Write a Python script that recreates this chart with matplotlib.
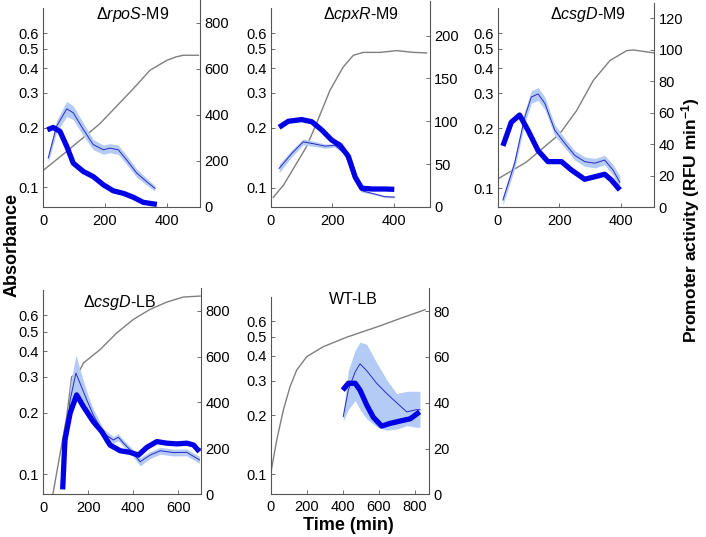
import numpy as np
import matplotlib
matplotlib.use("Agg")
import matplotlib.pyplot as plt
from matplotlib.ticker import NullLocator

plt.rcParams['font.family'] = ['Liberation Sans', 'DejaVu Sans']
plt.rcParams['mathtext.fontset'] = 'custom'
plt.rcParams['mathtext.rm'] = 'Liberation Sans'
plt.rcParams['mathtext.it'] = 'Liberation Sans:italic'
plt.rcParams['mathtext.bf'] = 'Liberation Sans:bold'

# ---- data ----
# dRpoS-M9
rpos_gray_t = [0, 76, 184, 292, 346, 400, 430, 454, 503]
rpos_gray_a = [0.122, 0.152, 0.210, 0.315, 0.39, 0.437, 0.455, 0.464, 0.464]
rpos_thick_t = [13, 32, 54, 76, 97, 130, 162, 195, 227, 260, 292, 324, 368]
rpos_thick_v = [335, 345, 328, 263, 190, 153, 131, 95, 69, 58, 41, 19, 10]
rpos_thin_t = [16, 43, 76, 97, 130, 162, 195, 216, 243, 270, 303, 335, 362]
rpos_thin_v = [212, 350, 426, 409, 336, 270, 248, 255, 248, 204, 146, 109, 80]
rpos_err = [20, 25, 33, 30, 28, 22, 20, 20, 20, 20, 18, 15, 12]

# dCpxR-M9
cpxr_gray_t = [9, 42, 85, 117, 149, 193, 236, 269, 301, 356, 410, 464, 507]
cpxr_gray_a = [0.0895, 0.103, 0.133, 0.161, 0.21, 0.309, 0.405, 0.464, 0.48, 0.48, 0.49, 0.48, 0.477]
cpxr_thick_t = [28, 58, 101, 134, 166, 199, 226, 253, 275, 296, 329, 372, 402]
cpxr_thick_v = [93, 100, 102, 99.5, 90, 78, 72, 59, 35, 22, 21, 21, 20.6]
cpxr_thin_t = [28, 69, 106, 144, 177, 209, 242, 270, 296, 329, 372, 402]
cpxr_thin_v = [45, 62.5, 76, 73.5, 71, 72, 62, 34, 19, 16, 12, 11.6]
cpxr_err = [5, 4, 3.5, 3, 2.5, 2, 1.5, 1.5, 1.5, 1, 1, 1]

# dCsgD-M9
csgm_gray_t = [0, 93, 201, 256, 310, 364, 418, 440, 508]
csgm_gray_a = [0.111, 0.135, 0.187, 0.245, 0.347, 0.437, 0.49, 0.494, 0.477]
csgm_thick_t = [17, 44, 71, 98, 131, 163, 207, 239, 282, 315, 347, 369, 396]
csgm_thick_v = [39, 54, 58.6, 49, 36, 29, 29, 23.7, 17.8, 19.4, 21, 17.3, 11]
csgm_thin_t = [17, 55, 88, 109, 131, 153, 185, 218, 250, 282, 315, 347, 374, 396]
csgm_thin_v = [4.6, 28, 57.5, 70, 72, 66, 49, 40.6, 33, 29, 28, 30, 23.7, 16]
csgm_err = [3, 3.5, 4, 4, 4, 4, 3.5, 3, 3, 3, 3, 3, 3.5, 4]

# dCsgD-LB
csgl_gray_t = [40, 104, 126, 156, 178, 252, 326, 400, 474, 548, 622, 696]
csgl_gray_a = [0.077, 0.192, 0.301, 0.313, 0.351, 0.408, 0.493, 0.574, 0.643, 0.698, 0.739, 0.747]
csgl_thick_t = [86, 96, 119, 148, 178, 222, 260, 296, 341, 385, 422, 460, 504, 548, 593, 637, 667, 693]
csgl_thick_v = [20, 236, 353, 433, 382, 316, 272, 214, 189, 182, 170, 204, 229, 222, 219, 222, 214, 185]
csgl_thin_t = [90, 119, 145, 163, 193, 222, 267, 311, 333, 356, 393, 430, 474, 519, 578, 637, 693]
csgl_thin_v = [120, 411, 528, 484, 411, 345, 265, 236, 248, 222, 185, 141, 170, 189, 181, 182, 149]
csgl_err = [30, 60, 80, 60, 35, 25, 20, 15, 15, 15, 15, 18, 15, 15, 15, 15, 15]

# WT-LB
wt_gray_t = [0, 33, 70, 107, 144, 200, 292, 421, 513, 606, 698, 791, 855]
wt_gray_a = [0.1008, 0.149, 0.212, 0.279, 0.339, 0.397, 0.446, 0.498, 0.532, 0.569, 0.611, 0.655, 0.687]
wt_thick_t = [399, 430, 468, 495, 532, 569, 615, 662, 717, 773, 825]
wt_thick_v = [45.5, 48.5, 48.5, 45.5, 39, 33.6, 29.8, 31, 32, 33, 36]
wt_thin_t = [402, 430, 468, 495, 532, 587, 643, 698, 754, 809, 827]
wt_thin_v = [34, 45.5, 53.5, 57, 54, 48.5, 44, 40, 36, 37, 37]
wt_band_hi = [36, 54, 63, 66.5, 65.5, 57.5, 50, 44, 45, 45, 45]
wt_band_lo = [32, 37, 41, 37, 33, 29.5, 28, 28.5, 30, 29.3, 29.3]

abs_ticks = [0.1, 0.2, 0.3, 0.4, 0.5, 0.6]

panels = [
    dict(title=r'$\Delta\mathit{rpoS}$-M9', gray=(rpos_gray_t, rpos_gray_a),
         thick=(rpos_thick_t, rpos_thick_v), thin=(rpos_thin_t, rpos_thin_v),
         lo=np.subtract(rpos_thin_v, rpos_err), hi=np.add(rpos_thin_v, rpos_err),
         xlim=508, xticks=[0, 200, 400], rlim=900, rticks=[0, 200, 400, 600, 800],
         lbox=(43.3, 8.3, 200, 206.7), rbox=(43.3, 0, 200, 206.7), tpos=(133, 15)),
    dict(title=r'$\Delta\mathit{cpxR}$-M9', gray=(cpxr_gray_t, cpxr_gray_a),
         thick=(cpxr_thick_t, cpxr_thick_v), thin=(cpxr_thin_t, cpxr_thin_v),
         lo=np.subtract(cpxr_thin_v, cpxr_err), hi=np.add(cpxr_thin_v, cpxr_err),
         xlim=518, xticks=[0, 200, 400], rlim=240, rticks=[0, 50, 100, 150, 200],
         lbox=(270.5, 8.3, 430, 207), rbox=(270.5, 1.3, 430, 207), tpos=(361, 15)),
    dict(title=r'$\Delta\mathit{csgD}$-M9', gray=(csgm_gray_t, csgm_gray_a),
         thick=(csgm_thick_t, csgm_thick_v), thin=(csgm_thin_t, csgm_thin_v),
         lo=np.subtract(csgm_thin_v, csgm_err), hi=np.add(csgm_thin_v, csgm_err),
         xlim=508, xticks=[0, 200, 400], rlim=130, rticks=[0, 20, 40, 60, 80, 100, 120],
         lbox=(497.7, 8.3, 654.3, 207.3), rbox=(497.7, 2.6, 654.3, 207.3), tpos=(587.5, 15)),
    dict(title=r'$\Delta\mathit{csgD}$-LB', gray=(csgl_gray_t, csgl_gray_a),
         thick=(csgl_thick_t, csgl_thick_v), thin=(csgl_thin_t, csgl_thin_v),
         lo=np.subtract(csgl_thin_v, csgl_err), hi=np.add(csgl_thin_v, csgl_err),
         xlim=700, xticks=[0, 200, 400, 600], rlim=900, rticks=[0, 200, 400, 600, 800],
         lbox=(43.3, 290, 201, 494), rbox=(43.3, 288, 201, 494), tpos=(120, 302)),
    dict(title='WT-LB', gray=(wt_gray_t, wt_gray_a),
         thick=(wt_thick_t, wt_thick_v), thin=(wt_thin_t, wt_thin_v),
         lo=wt_band_lo, hi=wt_band_hi,
         xlim=877, xticks=[0, 200, 400, 600, 800], rlim=90, rticks=[0, 20, 40, 60, 80],
         lbox=(270.7, 296.7, 429, 493.5), rbox=(270.7, 288.3, 429, 494.3), tpos=(353, 300)),
]

W, H = 706, 537


def box(x0, y0, x1, y1):
    return [x0 / W, 1 - y1 / H, (x1 - x0) / W, (y1 - y0) / H]


fig = plt.figure(figsize=(W / 100, H / 100), dpi=100)

for p in panels:
    ax = fig.add_axes(box(*p['lbox']))
    ax.plot(*p['gray'], color='#7f7f7f', lw=1.0)
    ax.set_yscale('log')
    ax.set_ylim(0.08, 0.8)
    ax.set_xlim(0, p['xlim'])
    ax.set_yticks(abs_ticks)
    ax.set_yticklabels([str(v) for v in abs_ticks])
    ax.yaxis.set_minor_locator(NullLocator())
    ax.set_xticks(p['xticks'])
    for s in ['top', 'right']:
        ax.spines[s].set_visible(False)
    for s in ['left', 'bottom']:
        ax.spines[s].set_color('#555555')
        ax.spines[s].set_linewidth(0.8)
    ax.tick_params(direction='in', length=3, width=0.6, colors='#555555',
                   labelcolor='black', labelsize=10.5, pad=3)
    ax.tick_params(axis='x', pad=5)

    ax2 = fig.add_axes(box(*p['rbox']))
    ax2.patch.set_visible(False)
    ax2.fill_between(p['thin'][0], p['lo'], p['hi'], color='#b3cbf5', lw=0)
    ax2.plot(*p['thin'], color='#2a2ac4', lw=0.7)
    ax2.plot(*p['thick'], color='#0000e6', lw=3.8, solid_capstyle='butt')
    ax2.set_xlim(0, p['xlim'])
    ax2.set_ylim(0, p['rlim'])
    ax2.set_yticks(p['rticks'])
    ax2.yaxis.tick_right()
    ax2.set_xticks([])
    for s in ['top', 'left', 'bottom']:
        ax2.spines[s].set_visible(False)
    ax2.spines['right'].set_color('#555555')
    ax2.spines['right'].set_linewidth(0.8)
    ax2.tick_params(direction='in', length=3, width=0.6, colors='#555555',
                    labelcolor='black', labelsize=10.5, pad=3)

    fig.text(p['tpos'][0] / W, 1 - p['tpos'][1] / H, p['title'],
             fontsize=11.5, ha='center', va='center')

fig.text(12 / W, 1 - 245 / H, 'Absorbance', rotation=90, fontsize=13,
         fontweight='bold', ha='center', va='center')
fig.text(691 / W, 1 - 220 / H, r'Promoter activity (RFU min$^{\mathbf{-1}}$)',
         rotation=90, fontsize=12.5, fontweight='bold', ha='center', va='center')
fig.text(348 / W, 1 - 525 / H, 'Time (min)', fontsize=13,
         fontweight='bold', ha='center', va='center')

fig.savefig('out.png', dpi=100)
